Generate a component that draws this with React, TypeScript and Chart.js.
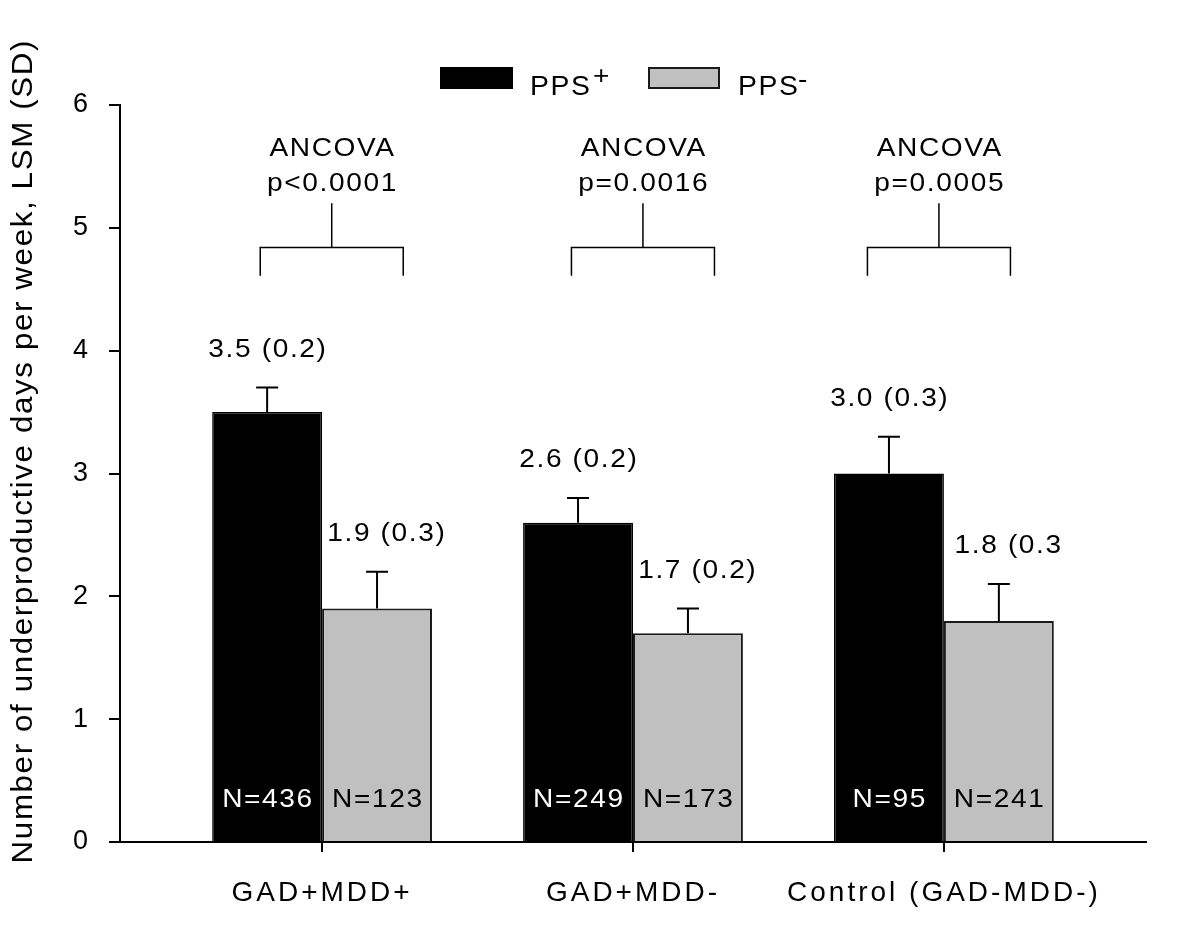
import React, { useEffect, useRef } from "react";
import { Chart, registerables } from "chart.js";

Chart.register(...registerables);

// ---- data ----
const CATEGORIES = ["GAD+MDD+", "GAD+MDD-", "Control (GAD-MDD-)"];
const X_POS = [1, 2, 3];
const PPS_POS = [3.5, 2.6, 3.0];
const PPS_POS_SD = [0.2, 0.2, 0.3];
const PPS_NEG = [1.9, 1.7, 1.8];
const PPS_NEG_SD = [0.3, 0.2, 0.3];
const PPS_POS_LABELS = ["3.5 (0.2)", "2.6 (0.2)", "3.0 (0.3)"];
const PPS_NEG_LABELS = ["1.9 (0.3)", "1.7 (0.2)", "1.8 (0.3"];
const N_POS = [436, 249, 95];
const N_NEG = [123, 173, 241];
const P_VALUES = ["p<0.0001", "p=0.0016", "p=0.0005"];
const Y_TITLE = "Number of underproductive days per week, LSM (SD)";

// annotation anchors (data units)
const ANNOT_X = [1.031, 2.032, 2.984];

const FONT = '"Liberation Sans", Arial, Helvetica, sans-serif';
const STRETCH = 1.08;
const LS = 1.5;

function drawText(
  ctx: CanvasRenderingContext2D,
  str: string,
  x: number,
  y: number,
  size: number,
  color: string,
  align: CanvasTextAlign,
  sx: number = STRETCH,
  ls: number = LS
) {
  ctx.save();
  ctx.font = `${size}px ${FONT}`;
  (ctx as any).letterSpacing = ls + "px";
  ctx.fillStyle = color;
  ctx.textAlign = align;
  ctx.textBaseline = "alphabetic";
  ctx.translate(x, y);
  ctx.scale(sx, 1);
  const dx = align === "center" ? ls / 2 : align === "right" ? ls : 0;
  ctx.fillText(str, dx, 0);
  ctx.restore();
}

export default function App() {
  const ref = useRef<HTMLCanvasElement>(null);

  useEffect(() => {
    const canvas = ref.current!;

    const overlay = {
      id: "overlay",
      beforeUpdate(chart: any) {
        chart.ctx.letterSpacing = "3px";
      },
      beforeDraw(chart: any) {
        chart.ctx.letterSpacing = "3px";
      },
      afterDatasetsDraw(chart: any) {
        const ctx: CanvasRenderingContext2D = chart.ctx;
        const ys = chart.scales.y;
        const y0 = ys.getPixelForValue(0);
        const sets = [
          { vals: PPS_POS, sds: PPS_POS_SD, labels: PPS_POS_LABELS, ns: N_POS, nColor: "#ffffff", dx: 0 },
          { vals: PPS_NEG, sds: PPS_NEG_SD, labels: PPS_NEG_LABELS, ns: N_NEG, nColor: "#000000", dx: 9 },
        ];
        sets.forEach((s, di) => {
          const meta = chart.getDatasetMeta(di);
          meta.data.forEach((bar: any, i: number) => {
            const top = ys.getPixelForValue(s.vals[i] + s.sds[i]);
            const barTop = ys.getPixelForValue(s.vals[i]);
            ctx.save();
            ctx.strokeStyle = "#000";
            ctx.lineWidth = 2;
            ctx.beginPath();
            ctx.moveTo(bar.x, barTop);
            ctx.lineTo(bar.x, top);
            ctx.moveTo(bar.x - 11, top);
            ctx.lineTo(bar.x + 11, top);
            ctx.stroke();
            ctx.restore();
            drawText(ctx, s.labels[i], bar.x + s.dx, top - 31, 26, "#000", "center");
            drawText(ctx, "N=" + s.ns[i], bar.x, y0 - 35, 26, s.nColor, "center");
          });
        });
      },
      afterDraw(chart: any) {
        const ctx: CanvasRenderingContext2D = chart.ctx;
        const xs = chart.scales.x;
        const ys = chart.scales.y;

        // ANCOVA brackets
        ANNOT_X.forEach((ax, i) => {
          const cx = xs.getPixelForValue(ax);
          const half = xs.getPixelForValue(ax + 0.23) - cx;
          const yBr = ys.getPixelForValue(4.84);
          const yLeg = ys.getPixelForValue(4.61);
          const yStem = ys.getPixelForValue(5.2);
          ctx.save();
          ctx.strokeStyle = "#000";
          ctx.lineWidth = 1.5;
          ctx.beginPath();
          ctx.moveTo(cx, yStem);
          ctx.lineTo(cx, yBr);
          ctx.moveTo(cx - half, yLeg);
          ctx.lineTo(cx - half, yBr);
          ctx.lineTo(cx + half, yBr);
          ctx.lineTo(cx + half, yLeg);
          ctx.stroke();
          ctx.restore();
          drawText(ctx, "ANCOVA", cx, ys.getPixelForValue(5.586), 26, "#000", "center");
          drawText(ctx, P_VALUES[i], cx, ys.getPixelForValue(5.3), 26, "#000", "center");
        });

        // Legend
        ctx.save();
        ctx.fillStyle = "#000";
        ctx.fillRect(432, 59, 73, 22);
        ctx.fillStyle = "#c0c0c0";
        ctx.fillRect(640, 59, 72, 22);
        ctx.strokeStyle = "#1a1a1a";
        ctx.lineWidth = 2;
        ctx.strokeRect(641, 60, 70, 20);
        ctx.restore();
        drawText(ctx, "PPS", 522, 87, 27, "#000", "left", 1.05, 1.5);
        drawText(ctx, "+", 585, 76, 26, "#000", "left");
        drawText(ctx, "PPS", 730, 87, 27, "#000", "left", 1.05, 1.5);
        drawText(ctx, "-", 790, 80, 26, "#000", "left");

        // Y axis title
        ctx.save();
        ctx.translate(24, 444);
        ctx.rotate(-Math.PI / 2);
        ctx.scale(STRETCH, 1);
        ctx.font = `29px ${FONT}`;
        (ctx as any).letterSpacing = LS + "px";
        ctx.fillStyle = "#000";
        ctx.textAlign = "center";
        ctx.textBaseline = "alphabetic";
        ctx.fillText(Y_TITLE, LS / 2, 0);
        ctx.restore();
      },
    };

    const chart = new Chart(canvas, {
      type: "bar",
      data: {
        datasets: [
          {
            label: "PPS+",
            data: X_POS.map((x, i) => ({ x, y: PPS_POS[i] })),
            backgroundColor: "#000000",
            borderColor: "#000000",
            borderWidth: 1.5,
            categoryPercentage: 0.707,
            barPercentage: 1,
          },
          {
            label: "PPS-",
            data: X_POS.map((x, i) => ({ x, y: PPS_NEG[i] })),
            backgroundColor: "#c0c0c0",
            borderColor: "#1a1a1a",
            borderWidth: 2,
            categoryPercentage: 0.707,
            barPercentage: 1,
          },
        ],
      },
      options: {
        responsive: false,
        animation: false,
        layout: { padding: { top: 97, right: 46, bottom: 0, left: 0 } },
        plugins: {
          legend: { display: false },
          tooltip: { enabled: false },
          title: { display: false },
        },
        scales: {
          x: {
            type: "linear",
            min: 0.35,
            max: 3.65,
            offset: false,
            afterBuildTicks: (s: any) => {
              s.ticks = X_POS.map((v) => ({ value: v }));
            },
            afterFit: (s: any) => {
              s.height = 90;
            },
            grid: {
              display: true,
              drawOnChartArea: false,
              drawTicks: true,
              tickLength: 10,
              color: "#000",
              lineWidth: 2,
              offset: false,
            },
            border: { display: true, color: "#000", width: 2 },
            ticks: {
              autoSkip: false,
              maxRotation: 0,
              minRotation: 0,
              padding: 24,
              color: "#000",
              font: { family: FONT, size: 28 },
              callback: (v: any) => {
                const idx = X_POS.indexOf(Number(v));
                return idx >= 0 ? CATEGORIES[idx] : "";
              },
            },
          },
          y: {
            min: 0,
            max: 6,
            afterFit: (s: any) => {
              s.width = 112;
            },
            grid: {
              display: true,
              drawOnChartArea: false,
              drawTicks: true,
              tickLength: 11,
              color: "#000",
              lineWidth: 2,
            },
            border: { display: true, color: "#000", width: 2 },
            ticks: {
              stepSize: 1,
              padding: 18,
              color: "#000",
              font: { family: FONT, size: 27 },
            },
          },
        },
      } as any,
      plugins: [overlay],
    });

    return () => chart.destroy();
  }, []);

  return (
    <div style={{ width: 1184, height: 924 }}>
      <canvas ref={ref} width={1184} height={924} style={{ display: "block" }} />
    </div>
  );
}
